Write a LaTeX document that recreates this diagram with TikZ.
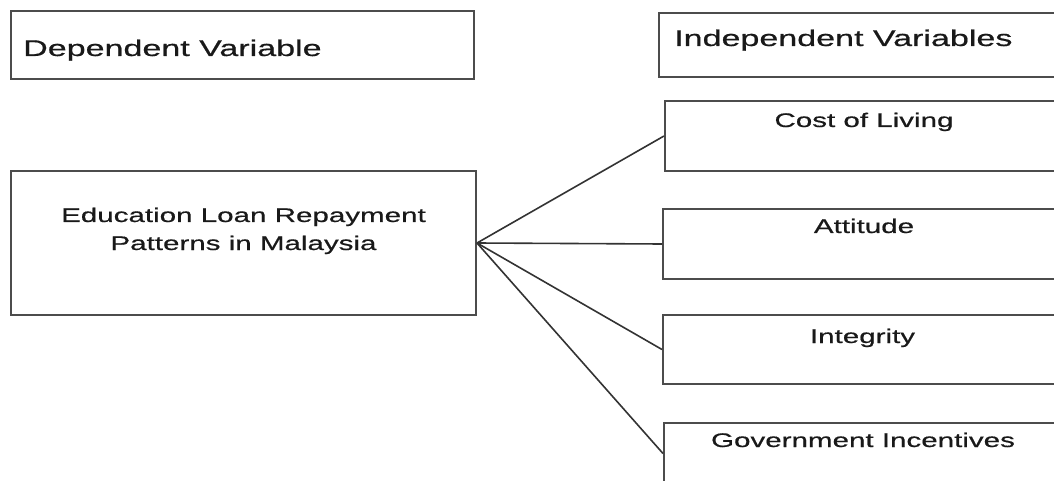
\documentclass[tikz,border=0pt]{standalone}
\usepackage{fontspec}
\setmainfont{Liberation Sans}[FakeStretch=1.5, FakeBold=0.6]
\begin{document}
\begin{tikzpicture}[x=1pt,y=-1pt,
  box/.style={draw=black!70, line width=2pt, inner sep=0pt},
  link/.style={draw=black!80, line width=1.6pt},
  headtxt/.style={inner sep=0pt, anchor=base west, text=black!90,
    font=\fontsize{22.7}{27}\selectfont},
  bodytxt/.style={inner sep=0pt, anchor=base, text=black!90,
    font=\fontsize{19.7}{24}\selectfont}]
  \useasboundingbox (0,0) rectangle (1054,481);
  \clip (0,0) rectangle (1054,481);

  % boxes
  \node[box, minimum width=463pt, minimum height=68pt] (dep) at (242.5,45) {};
  \node[box, minimum width=411pt, minimum height=64pt] (indep) at (864.5,45) {};
  \node[box, minimum width=405pt, minimum height=70pt] (cost) at (867.5,136) {};
  \node[box, minimum width=465pt, minimum height=144pt] (edu) at (243.5,243) {};
  \node[box, minimum width=407pt, minimum height=70pt] (att) at (866.5,244) {};
  \node[box, minimum width=407pt, minimum height=69pt] (integ) at (866.5,349.5) {};
  \node[box, minimum width=406pt, minimum height=61pt] (gov) at (867,453.5) {};

  % texts
  \node[headtxt] (deptxt) at (23,56) {Dependent Variable};
  \node[headtxt] (indeptxt) at (674,46) {Independent Variables};
  \node[bodytxt] (costtxt) at (864,127) {Cost of Living};
  \node[bodytxt] (edutxta) at (243.5,222) {Education Loan Repayment};
  \node[bodytxt] (edutxtb) at (243.5,250) {Patterns in Malaysia};
  \node[bodytxt] (atttxt) at (864,233) {Attitude};
  \node[bodytxt] (integtxt) at (862.5,343) {Integrity};
  \node[bodytxt] (govtxt) at (863,447) {Government Incentives};

  % connectors
  \draw[link] (edu.east) -- (cost.west);
  \draw[link] (edu.east) -- (att.west);
  \draw[link] (edu.east) -- (integ.west);
  \draw[link] (edu.east) -- (gov.west);
\end{tikzpicture}
\end{document}
